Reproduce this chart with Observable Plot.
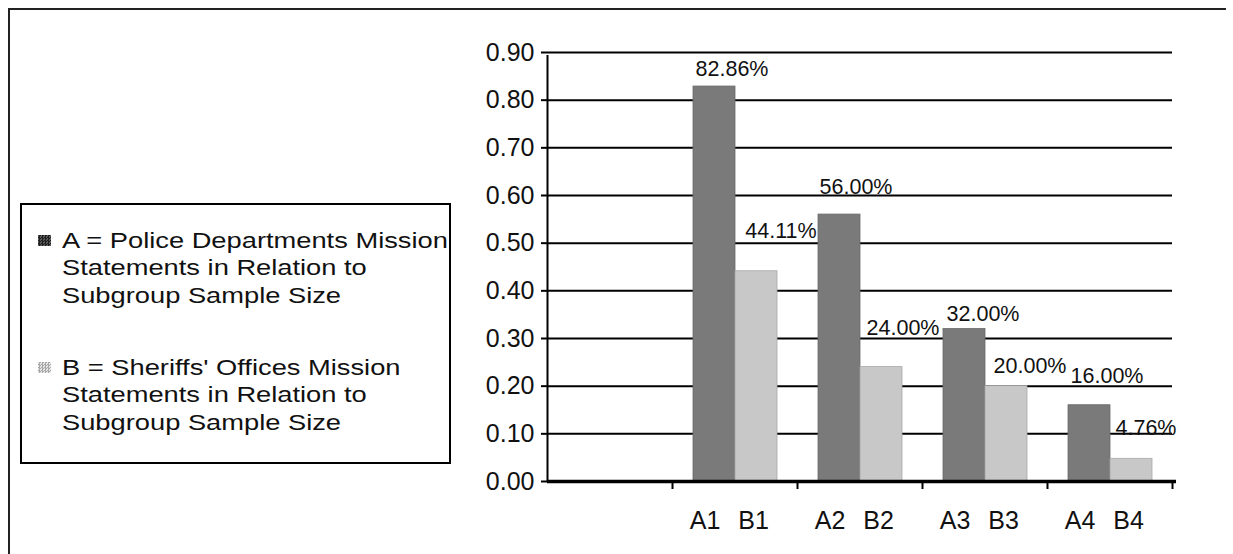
<!DOCTYPE html>
<html>
<head>
<meta charset="utf-8">
<script src="https://cdn.jsdelivr.net/npm/d3@7"></script>
<script src="https://cdn.jsdelivr.net/npm/@observablehq/plot@0.6"></script>
<style>
  html, body { margin: 0; padding: 0; background: #fff; }
  body { font-family: "Liberation Sans", Arial, Helvetica, sans-serif; color: #111; }
  #wrap { position: relative; width: 1233px; height: 554px; overflow: hidden; background: #fff; }
  #chart { position: absolute; left: 0; top: 0; }
  #frameTop { position: absolute; left: 8px; top: 8px; width: 1218px; height: 2px; background: #222; }
  #frameLeft { position: absolute; left: 8px; top: 8px; width: 2px; height: 546px; background: #222; }
  #legend { position: absolute; left: 20px; top: 203px; width: 431px; height: 261px; border: 2px solid #000; box-sizing: border-box; background: #fff; }
  .lgline { position: absolute; left: 40px; font-size: 22px; line-height: 27.5px; white-space: nowrap; }
  .lgline span { display: inline-block; transform: scaleX(1.24); transform-origin: 0 50%; }
  .swatch { position: absolute; left: 16px; width: 13px; height: 11px; }
</style>
</head>
<body>
<div id="wrap">
  <div id="chart"></div>
  <div id="frameTop"></div>
  <div id="frameLeft"></div>
  <div id="legend"></div>
</div>
<script>
// ---- data ----
const groups = ["0", "1", "2", "3", "4"];          // first slot is empty
const barGroups = ["1", "2", "3", "4"];
const valuesA = [0.8286, 0.5600, 0.3200, 0.1600];
const valuesB = [0.4411, 0.2400, 0.2000, 0.0476];
const labelsA = ["82.86%", "56.00%", "32.00%", "16.00%"];
const labelsB = ["44.11%", "24.00%", "20.00%", "4.76%"];
const tickLabelsA = ["A1", "A2", "A3", "A4"];
const tickLabelsB = ["B1", "B2", "B3", "B4"];
const yTicks = [0, 0.1, 0.2, 0.3, 0.4, 0.5, 0.6, 0.7, 0.8, 0.9];
const legendA = ["A = Police Departments Mission", "Statements in Relation to", "Subgroup Sample Size"];
const legendB = ["B = Sheriffs' Offices Mission", "Statements in Relation to", "Subgroup Sample Size"];

const rowsA = barGroups.map((g, i) => ({group: g, value: valuesA[i], label: labelsA[i], tick: tickLabelsA[i]}));
const rowsB = barGroups.map((g, i) => ({group: g, value: valuesB[i], label: labelsB[i], tick: tickLabelsB[i]}));

// ---- styling (label nudges in pixels, as placed in the original) ----
const colorA = "#7a7a7a";
const colorB = "#c8c8c8";
const nudgeA = [[-3, -11], [-4, -21], [-2, -8], [-3, -22]];
const nudgeB = [[46, -33], [43, -32], [45, -13], [36, -24]];

const valueLabelMarks = [
  ...rowsA.map((r, i) => Plot.text([r], {x: "group", y: "value", text: "label", dx: nudgeA[i][0], dy: nudgeA[i][1], lineAnchor: "bottom", fontSize: 21.5, fill: "#111"})),
  ...rowsB.map((r, i) => Plot.text([r], {x: "group", y: "value", text: "label", dx: nudgeB[i][0], dy: nudgeB[i][1], lineAnchor: "bottom", fontSize: 21.5, fill: "#111"}))
];

const chart = Plot.plot({
  width: 1233,
  height: 554,
  marginLeft: 547,
  marginRight: 61,
  marginTop: 52,
  marginBottom: 73,
  style: {fontFamily: '"Liberation Sans", Arial, sans-serif', color: "#111", background: "transparent", overflow: "visible"},
  x: {type: "band", domain: groups, padding: 0, axis: null},
  y: {domain: [0, 0.9], label: null},
  marks: [
    Plot.ruleY(yTicks.filter(d => d > 0), {y: d => d, stroke: "#000", strokeWidth: 2}),
    Plot.barY(rowsA, {x: "group", y: "value", fill: colorA, stroke: "#6a6a6a", strokeWidth: 0.8, insetLeft: 21, insetRight: 62}),
    Plot.barY(rowsB, {x: "group", y: "value", fill: colorB, stroke: "#a8a8a8", strokeWidth: 0.8, insetLeft: 63, insetRight: 20}),
    Plot.ruleY([0], {y: d => d, stroke: "#000", strokeWidth: 3.5, insetRight: -4}),
    Plot.ruleX([groups[0]], {x: d => d, dx: -62.5, y1: 0, y2: 0.9, insetBottom: -3, stroke: "#000", strokeWidth: 2}),
    Plot.ruleX(groups, {x: d => d, dx: 62.5, y1: 0, y2: 0, insetBottom: -8, stroke: "#000", strokeWidth: 2}),
    Plot.axisY({ticks: yTicks, tickFormat: d3.format(".2f"), tickSize: 6, tickPadding: 7, fontSize: 25, label: null, stroke: "#000", strokeWidth: 2}),
    ...valueLabelMarks,
    Plot.text(rowsA, {x: "group", text: "tick", frameAnchor: "bottom", dx: -30, dy: 47, lineAnchor: "bottom", fontSize: 25, fill: "#111"}),
    Plot.text(rowsB, {x: "group", text: "tick", frameAnchor: "bottom", dx: 18.5, dy: 47, lineAnchor: "bottom", fontSize: 25, fill: "#111"})
  ]
});
document.getElementById("chart").appendChild(chart);

// ---- legend ----
const legend = document.getElementById("legend");
const entries = [
  {lines: legendA, top: 21.5, swatch: "repeating-conic-gradient(#1e1e1e 0 25%, #5a5a5a 0 50%) 0 0/3px 3px"},
  {lines: legendB, top: 148.5, swatch: "repeating-conic-gradient(#a8a8a8 0 25%, #e6e6e6 0 50%) 0 0/3px 3px"}
];
entries.forEach(e => {
  const sw = document.createElement("div");
  sw.className = "swatch";
  sw.style.top = (e.top + 8) + "px";
  sw.style.background = e.swatch;
  legend.appendChild(sw);
  e.lines.forEach((t, j) => {
    const d = document.createElement("div");
    d.className = "lgline";
    d.style.top = (e.top + j * 27.5) + "px";
    const s = document.createElement("span");
    s.textContent = t;
    d.appendChild(s);
    legend.appendChild(d);
  });
});
</script>
</body>
</html>
